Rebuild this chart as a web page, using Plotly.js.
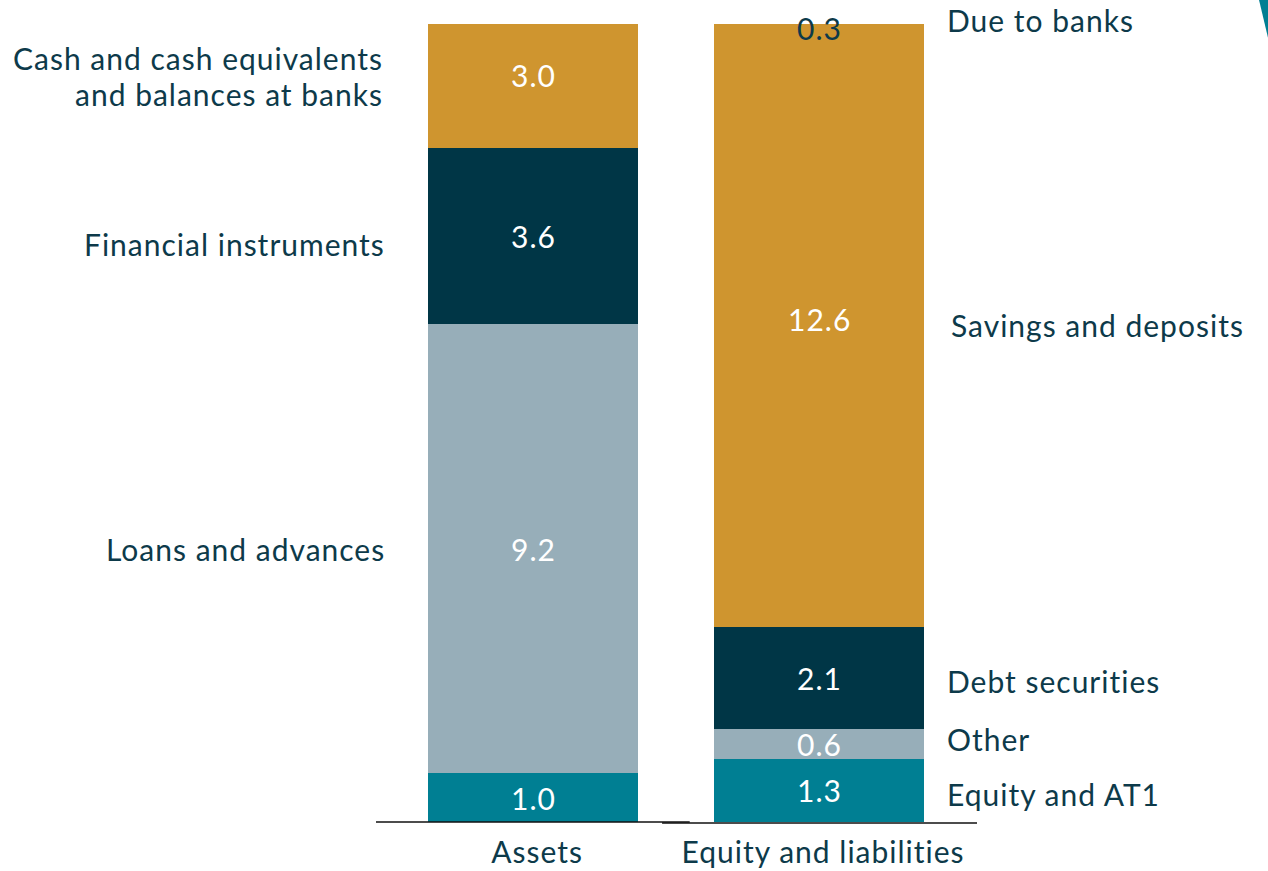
<!DOCTYPE html>
<html>
<head>
<meta charset="utf-8">
<script src="https://cdn.plot.ly/plotly-3.0.1.min.js"></script>
<style>
  html, body { margin: 0; padding: 0; background: #ffffff; }
  #chart { width: 1268px; height: 871px; }
  svg text { font-variant-ligatures: none; letter-spacing: 1px; }
</style>
</head>
<body>
<div id="chart"></div>
<script>
// ---- data ----
const categories = ['Assets', 'Equity and liabilities'];
const assetLabels = ['Other', 'Loans and advances', 'Financial instruments', 'Cash and cash equivalents<br>and balances at banks'];
const assetValues = [1.0, 9.2, 3.6, 3.0];
const liabLabels = ['Equity and AT1', 'Other', 'Debt securities', 'Savings and deposits', 'Due to banks'];
const liabValues = [1.3, 0.6, 2.1, 12.6, 0.3];
const layerColors = ['#007F93', '#97AEB9', '#003646', '#CF952F', '#CF952F'];

const textColor = '#0D3A4A';
const fontFamily = 'Lato, "Open Sans", sans-serif';
const yMax = 16.35;

// ---- traces (one per stack layer) ----
const traces = layerColors.map((c, i) => ({
  type: 'bar',
  x: categories,
  y: [i < assetValues.length ? assetValues[i] : null, liabValues[i]],
  width: 0.734,
  marker: { color: c, line: { width: 0 } },
  hoverinfo: 'skip',
  showlegend: false
}));

// ---- annotations ----
const annotations = [];
function addValues(values, cat) {
  let base = 0;
  values.forEach((v) => {
    const mid = base + v / 2;
    const clipped = mid > yMax;
    annotations.push({
      x: cat, y: clipped ? yMax : mid, xref: 'x', yref: 'y', yshift: clipped ? -4 : 0,
      text: v.toFixed(1), showarrow: false,
      font: { family: fontFamily, size: 30, color: clipped ? textColor : '#ffffff' },
      xanchor: 'center', yanchor: 'middle'
    });
    base += v;
  });
}
addValues(assetValues, categories[0]);
addValues(liabValues, categories[1]);

// left side category labels
let b = 0;
const leftShift = [-1, 0, -8, -1];
const leftX = [-0.572, -0.512, -0.512, -0.519];
assetValues.forEach((v, i) => {
  const mid = b + v / 2;
  const lines = assetLabels[i].split('<br>');
  const lh = 36;
  lines.forEach((ln, k) => {
    annotations.push({
      x: leftX[i], y: mid, xref: 'x', yref: 'y',
      yshift: leftShift[i] + ((lines.length - 1) / 2 - k) * lh,
      text: ln, showarrow: false, align: 'right',
      font: { family: fontFamily, size: 30, color: textColor },
      xanchor: 'right', yanchor: 'middle'
    });
  });
  b += v;
});
// right side category labels
b = 0;
const rightShift = [-4, 5, -3, -6, 0];
const rightX = [1.44, 1.44, 1.44, 1.454, 1.44];
liabValues.forEach((v, i) => {
  const mid = b + v / 2;
  const clipped = mid > yMax;
  annotations.push({
    x: rightX[i], y: clipped ? yMax : mid, xref: 'x', yref: 'y', yshift: clipped ? 4 : rightShift[i],
    text: liabLabels[i], showarrow: false, align: 'left',
    font: { family: fontFamily, size: 30, color: textColor },
    xanchor: 'left', yanchor: 'middle'
  });
  b += v;
});

const layout = {
  width: 1268, height: 871,
  margin: { l: 376, r: 291, t: 24, b: 49, pad: 0 },
  paper_bgcolor: '#ffffff', plot_bgcolor: '#ffffff',
  barmode: 'stack',
  bargap: 0,
  font: { family: fontFamily, color: textColor },
  xaxis: {
    type: 'category',
    range: [-0.549, 1.552],
    showgrid: false, zeroline: false, showline: false,
    ticks: '', ticklen: 0,
    ticklabelstandoff: 10,
    ticklabelshift: 4,
    tickfont: { family: fontFamily, size: 30, color: textColor },
    fixedrange: true
  },
  yaxis: {
    range: [0, yMax],
    showgrid: false, zeroline: false, showline: false,
    showticklabels: false, ticks: '',
    fixedrange: true
  },
  annotations: annotations,
  shapes: [
    { type: 'line', xref: 'paper', yref: 'paper', x0: 0, x1: 0.522, y0: 0, y1: 0,
      line: { color: '#111111', width: 1.5 } },
    { type: 'line', xref: 'paper', yref: 'paper', x0: 0.476, x1: 1, y0: -0.0013, y1: -0.0013,
      line: { color: '#111111', width: 1.5 } },
    { type: 'path', xref: 'paper', yref: 'paper',
      path: 'M 1.469 1.031 L 1.486 1.031 L 1.486 0.977 Z',
      fillcolor: '#007F93', line: { width: 0 } }
  ]
};

Plotly.newPlot('chart', traces, layout, { displayModeBar: false, staticPlot: true });
</script>
</body>
</html>
